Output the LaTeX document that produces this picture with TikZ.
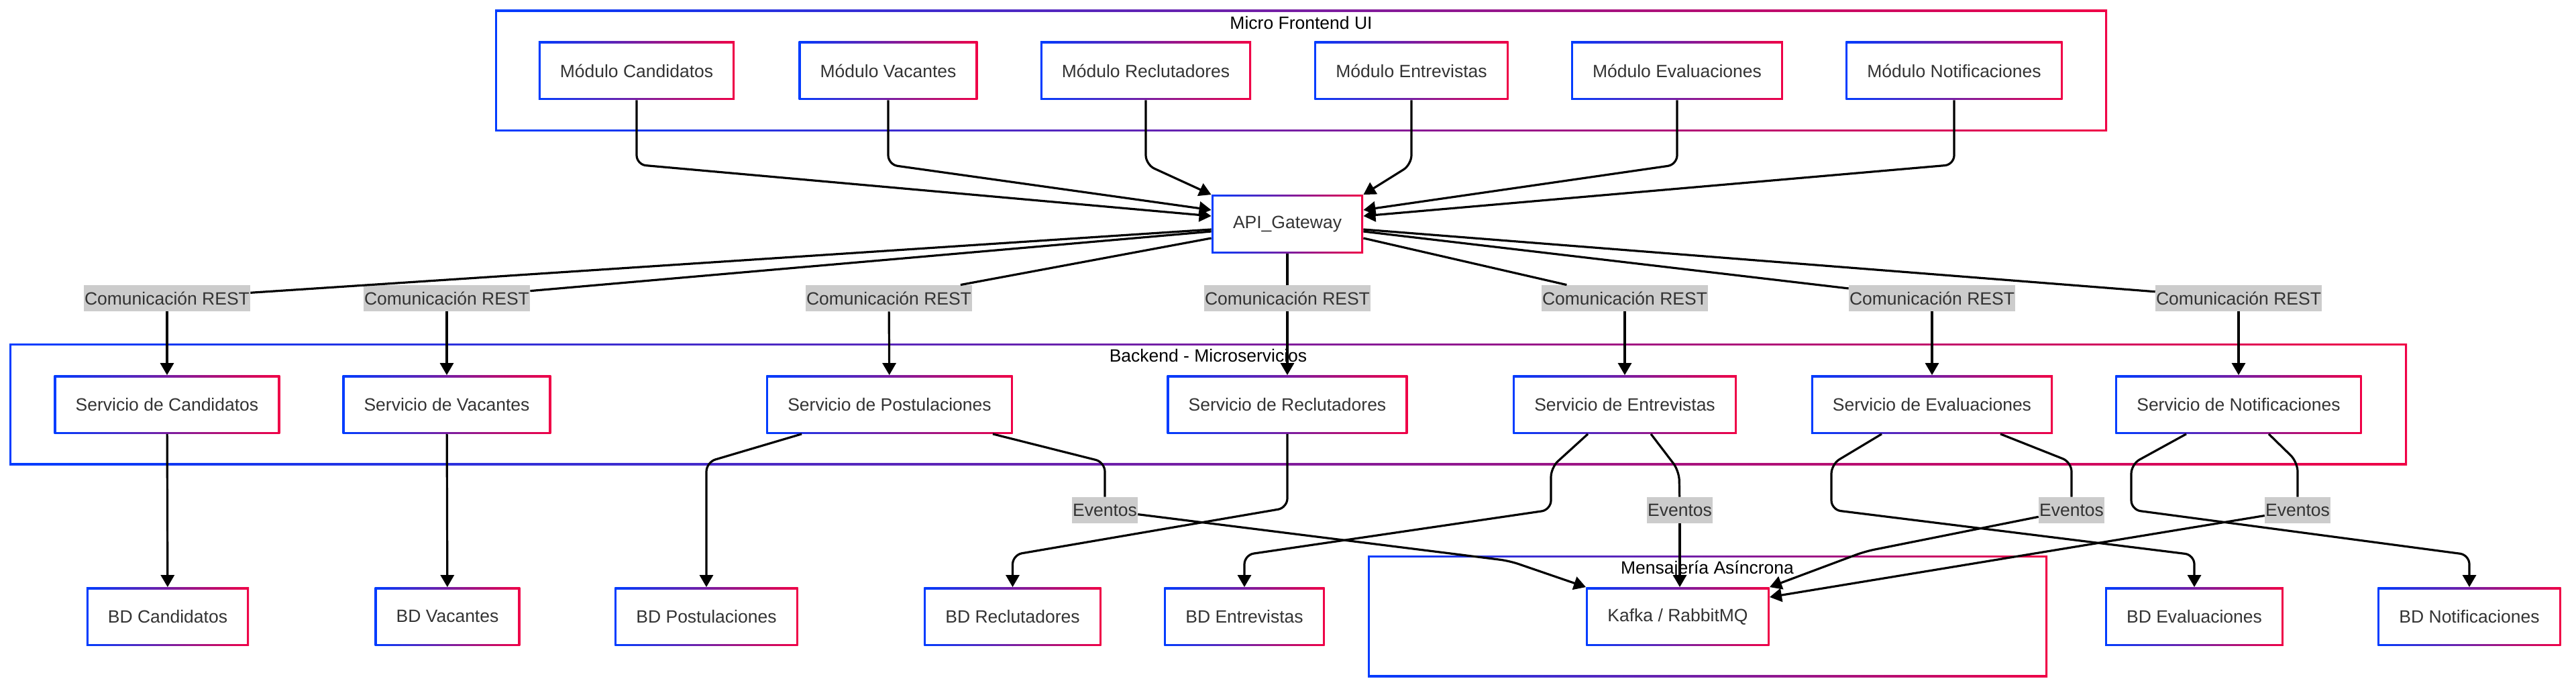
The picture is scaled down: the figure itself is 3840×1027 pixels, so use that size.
\documentclass[tikz,border=0pt]{standalone}
\usepackage{fontspec}
\setmainfont{Liberation Sans}
\usetikzlibrary{arrows.meta,calc}
\definecolor{gblue}{RGB}{0,60,255}
\definecolor{gred}{RGB}{240,0,70}
\definecolor{txtgray}{HTML}{333333}
\definecolor{lblgray}{HTML}{CCCCCC}
\newcommand\lab{\fontsize{13.25}{15}\selectfont}
\tikzset{
  grad/.style={left color=gblue, right color=gred,
    path picture={\fill[white] ([shift={(1.5pt,1.5pt)}]path picture bounding box.south west)
      rectangle ([shift={(-1.5pt,-1.5pt)}]path picture bounding box.north east);}},
  box/.style={grad, rectangle, minimum height=43.5pt, inner xsep=16pt, inner ysep=0pt,
    font=\lab, text=txtgray},
  tag/.style={fill=lblgray, font=\lab, text=txtgray, inner xsep=0.5pt, inner ysep=0pt,
    minimum height=19.5pt},
  title/.style={font=\lab, text=black, inner sep=0pt},
  link/.style={line width=1.6pt, rounded corners=7pt},
  edge/.style={link, -{Triangle[length=9pt,width=10pt]}},
}
\begin{document}
\begin{tikzpicture}[x=0.5pt, y=-0.5pt]
\useasboundingbox (0,0) rectangle (3840,1027);
% subgraphs
\path[grad] (738,15) rectangle (3141,196);
\path[grad] (14,512) rectangle (3588,693);
\path[grad] (2039,828) rectangle (3052,1009);
\node[title] at (1939.5,34) {Micro Frontend UI};
\node[title] at (1801,530) {Backend - Microservicios};
\node[title] at (2545,848) {Mensajería Asíncrona};
% front end modules
\foreach \n/\x/\t in {mCand/949/Candidatos, mVac/1324/Vacantes, mRec/1708/Reclutadores,
  mEnt/2104/Entrevistas, mEva/2500/Evaluaciones, mNot/2913/Notificaciones}
  \node[box] (\n) at (\x,105.5) {Módulo \t};
\node[box] (api) at (1919,334) {API\_Gateway};
% REST labels
\foreach \n/\x in {r1/249, r2/666, r3/1325, r4/1919, r5/2422, r6/2880, r7/3337}
  \node[tag] (\n) at (\x,444.5) {Comunicación REST};
% services
\foreach \n/\x/\t in {sCand/249/Candidatos, sVac/666/Vacantes, sPos/1326/Postulaciones,
  sRec/1919/Reclutadores, sEnt/2422/Entrevistas, sEva/2880/Evaluaciones, sNot/3337/Notificaciones}
  \node[box] (\n) at (\x,603) {Servicio de \t};
% databases
\foreach \n/\x/\t in {bdCand/250/Candidatos, bdVac/667/Vacantes, bdPos/1053/Postulaciones,
  bdRec/1509.5/Reclutadores, bdEnt/1855/Entrevistas, bdEva/3271/Evaluaciones, bdNot/3681/Notificaciones}
  \node[box] (\n) at (\x,919) {BD \t};
\node[box] (kafka) at (2501,919) {Kafka / RabbitMQ};
% event labels
\foreach \n/\x in {evPos/1647, evEnt/2504, evEva/3088, evNot/3425}
  \node[tag] (\n) at (\x,760.5) {Eventos};
% modules -> gateway
\draw[edge] (mCand.south) -- ++(0,96) -- ($(api.west)+(0,-12)$);
\draw[edge] (mVac.south) -- ++(0,96) -- ($(api.west)+(0,-21)$);
\draw[edge] (mRec.south) -- ++(0,96) -- (api.north west);
\draw[edge] (mEnt.south) -- ++(0,96) -- (api.north east);
\draw[edge] (mEva.south) -- ++(0,96) -- ($(api.east)+(0,-21)$);
\draw[edge] (mNot.south) -- ++(0,96) -- ($(api.east)+(0,-12)$);
% gateway -> services
\draw[link] ($(api.west)+(0,8)$) -- (r1);
\draw[link] ($(api.west)+(0,11)$) -- (r2);
\draw[link] ($(api.west)+(0,21)$) -- (r3);
\draw[link] (api.south) -- (r4);
\draw[link] ($(api.east)+(0,21)$) -- (r5);
\draw[link] ($(api.east)+(0,11)$) -- (r6);
\draw[link] ($(api.east)+(0,8)$) -- (r7);
\draw[edge] (r1) -- (sCand);
\draw[edge] (r2) -- (sVac);
\draw[edge] (r3) -- (sPos);
\draw[edge] (r4) -- (sRec);
\draw[edge] (r5) -- (sEnt);
\draw[edge] (r6) -- (sEva);
\draw[edge] (r7) -- (sNot);
% services -> databases
\draw[edge] (sCand) -- (bdCand);
\draw[edge] (sVac) -- (bdVac);
\draw[edge] ($(sPos.south)+(-131,0)$) -- ++(-142,42) -- (bdPos.north);
\draw[edge] (sRec.south) -- ++(0,110) -- ($(bdRec.north)+(0,-48)$) -- (bdRec.north);
\draw[edge] ($(sEnt.south)+(-55,0)$) -- ++(-55,50) -- ++(0,63) -- ($(bdEnt.north)+(0,-48)$) -- (bdEnt.north);
\draw[edge] ($(sEva.south)+(-75,0)$) -- ++(-75,45) -- ++(0,68) -- ($(bdEva.north)+(0,-48)$) -- (bdEva.north);
\draw[edge] ($(sNot.south)+(-78,0)$) -- ++(-82,45) -- ++(0,68) -- ($(bdNot.north)+(0,-48)$) -- (bdNot.north);
% services -> broker
\draw[link] ($(sPos.south)+(154,0)$) -- ++(167,42) -- (evPos);
\draw[link] ($(sEnt.south)+(39,0)$) -- ++(42,55) -- (evEnt);
\draw[link] ($(sEva.south)+(102,0)$) -- ++(106,42) -- (evEva);
\draw[link] ($(sNot.south)+(45,0)$) -- ++(43,42) -- (evNot);
\draw[edge] (evPos) -- (2250,836) -- (kafka.north west);
\draw[edge] (evEnt) -- (evEnt |- kafka.north);
\draw[edge] (evEva) -- (2780,822) -- (kafka.north east);
\draw[edge] (evNot) -- ($(kafka.east)+(0,-29)$);
\end{tikzpicture}
\end{document}
